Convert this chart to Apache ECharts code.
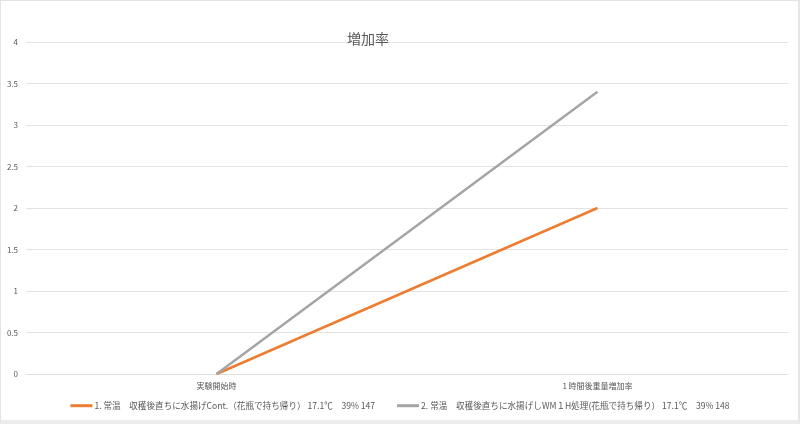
<!DOCTYPE html>
<html><head><meta charset="utf-8">
<script src="https://cdn.jsdelivr.net/npm/echarts@6/dist/echarts.min.js"></script>
<style>
html,body{margin:0;padding:0;background:#fff;}
#frame{position:absolute;left:0;top:0;width:797px;height:419px;border-top:1px solid #e3e3e3;border-left:1px solid #e3e3e3;border-right:2px solid #e6e6e6;border-bottom:4px solid #ececec;}
#c{position:absolute;left:0;top:0;width:800px;height:424px;}
</style></head>
<body><div id="frame"></div><div id="c"></div>
<script>
const categories = ['実験開始時', '1 時間後重量増加率'];
const seriesNames = [
  '1. 常温　収穫後直ちに水揚げCont.（花瓶で持ち帰り） 17.1℃　39% 147',
  '2. 常温　収穫後直ちに水揚げしWM１H処理(花瓶で持ち帰り） 17.1℃　39% 148'
];
const series1 = [0, 2];
const series2 = [0, 3.4];
const yTicks = [0, 0.5, 1, 1.5, 2, 2.5, 3, 3.5, 4];

const chart = echarts.init(document.getElementById('c'), null, {renderer:'canvas'});
const font = '"Noto Sans CJK JP", "Noto Sans", sans-serif';
chart.setOption({
  backgroundColor: 'transparent',
  animation: false,
  title: {
    text: '増加率', left: 363, top: 27, textAlign: 'center',
    textStyle: {fontFamily: font, fontSize: 14, fontWeight: 'normal', color: '#595959'}
  },
  legend: {
    bottom: 9, left: 'center', itemWidth: 22, itemHeight: 3, itemGap: 22,
    icon: 'rect',
    textStyle: {fontFamily: font, fontSize: 8.6, color: '#595959', padding: [0, 0, 0, -3]},
    data: seriesNames
  },
  grid: {left: 26, right: 12, top: 42, bottom: 50, containLabel: false},
  xAxis: {
    type: 'category', data: categories, boundaryGap: true,
    axisLine: {lineStyle: {color: '#e0e0e0', width: 1}},
    axisTick: {show: false},
    axisLabel: {fontFamily: font, fontSize: 8, color: '#595959', margin: 8}
  },
  yAxis: {
    type: 'value', min: 0, max: 4, interval: 0.5,
    axisLine: {show: false}, axisTick: {show: false},
    axisLabel: {fontFamily: font, fontSize: 8, color: '#595959', margin: 8,
      formatter: v => yTicks.includes(v) ? String(v) : ''},
    splitLine: {lineStyle: {color: '#e3e3e3', width: 1}}
  },
  series: [
    {name: seriesNames[0], type: 'line', data: series1, symbol: 'none',
     lineStyle: {color: '#ED7D31', width: 2.5}, itemStyle: {color: '#ED7D31'}},
    {name: seriesNames[1], type: 'line', data: series2, symbol: 'none',
     lineStyle: {color: '#A5A5A5', width: 2.5}, itemStyle: {color: '#A5A5A5'}}
  ]
});
</script></body></html>
